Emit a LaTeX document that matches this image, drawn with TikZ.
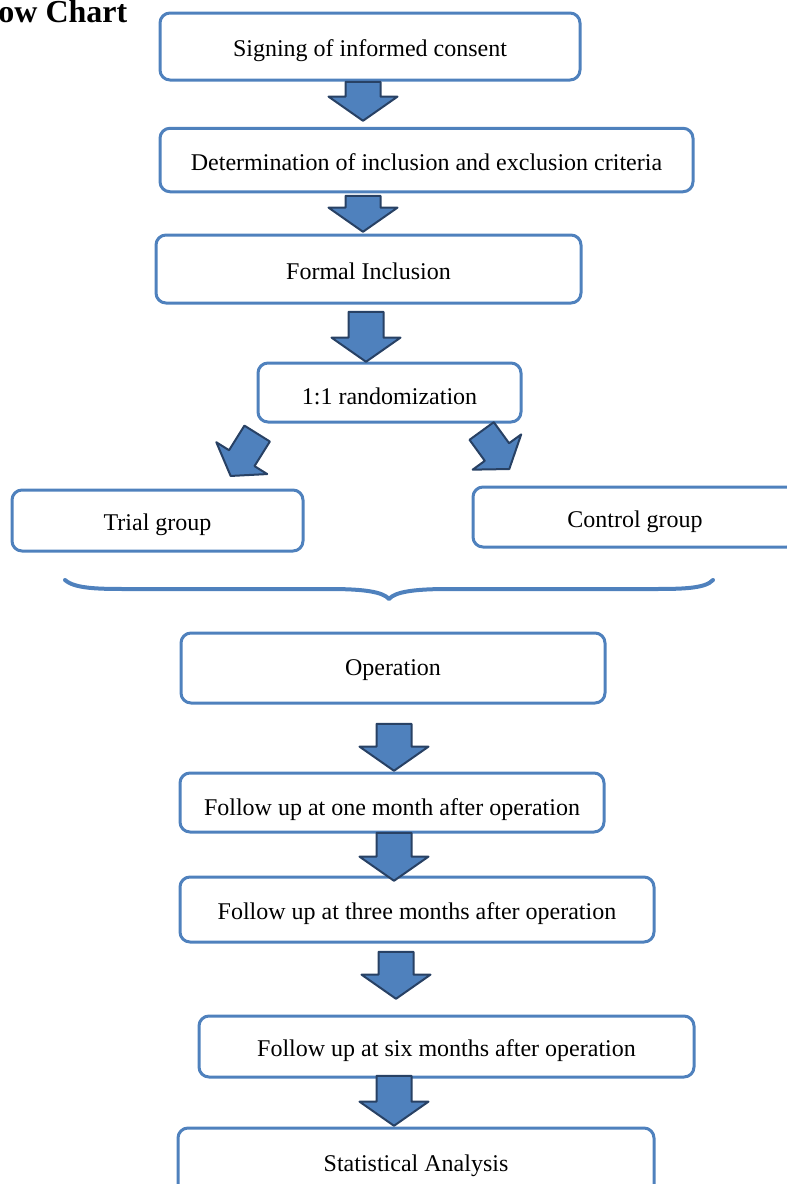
\documentclass[tikz,border=0pt]{standalone}
\usepackage{fontspec}
\setmainfont{Liberation Serif}
\usetikzlibrary{shapes.arrows}
\definecolor{boxblue}{RGB}{79,129,189}
\definecolor{arrowline}{RGB}{40,65,100}

\begin{document}
\begin{tikzpicture}[x=0.5pt,y=-0.5pt,line join=round]
\tikzstyle{box}=[draw=boxblue,line width=1.5pt,rounded corners=5pt,align=center,inner sep=0pt,text height=10pt,text depth=0pt,font=\fontsize{12}{14}\selectfont]
\tikzstyle{blockarrow}=[single arrow,draw=arrowline,fill=boxblue,line width=1pt,inner xsep=0pt,inner ysep=8.25pt,single arrow head extend=8.5pt,single arrow tip angle=110,anchor=tip]
\tikzstyle{slantarrow}=[blockarrow,inner ysep=7pt,single arrow head extend=7.5pt]
\useasboundingbox (0,0) rectangle (787,1184);
\node[font=\fontsize{16}{18}\selectfont\bfseries,anchor=base west,inner sep=0pt] (title) at (-2,22) {ow Chart};
% boxes
\node[box,minimum width=210pt,minimum height=33.5pt] (consent) at (370,46.5) {Signing of informed consent};
\node[box,minimum width=266.5pt,minimum height=31.75pt] (criteria) at (426.5,160) {Determination of inclusion and exclusion criteria};
\node[box,minimum width=212.5pt,minimum height=34pt] (inclusion) at (368.5,269) {Formal Inclusion};
\node[box,minimum width=131.5pt,minimum height=29.5pt,text height=12pt] (random) at (389.5,392.5) {1:1 randomization};
\node[box,minimum width=145.5pt,minimum height=30.5pt] (trial) at (157.5,520.5) {Trial group};
\node[box,minimum width=162pt,minimum height=30pt] (control) at (635,517) {Control group};
\node[box,minimum width=212pt,minimum height=35pt,text height=7pt] (operation) at (393,668) {Operation};
\node[box,minimum width=212pt,minimum height=29.5pt,text height=13pt] (month1) at (392,802.5) {Follow up at one month after operation};
\node[box,minimum width=237pt,minimum height=32.5pt] (month3) at (417,909.5) {Follow up at three months after operation};
\node[box,minimum width=247.5pt,minimum height=30.5pt] (month6) at (446.5,1046.5) {Follow up at six months after operation};
\node[box,minimum width=238pt,minimum height=36pt,text height=7pt] (stats) at (416,1164) {Statistical Analysis};
% block arrows
\node[blockarrow,rotate=-90,minimum height=19.5pt] (a1) at (363,122) {};
\node[blockarrow,rotate=-90,minimum height=18pt] (a2) at (363,233) {};
\node[blockarrow,rotate=-90,minimum height=25pt] (a3) at (366,363) {};
\node[slantarrow,rotate=238,minimum height=25pt] (a4) at (230,477) {};
\node[slantarrow,rotate=-54,minimum height=23.5pt] (a5) at (510,470) {};
\node[blockarrow,rotate=-90,minimum height=23.5pt] (a6) at (394,772) {};
\node[blockarrow,rotate=-90,minimum height=24pt] (a7) at (394,882) {};
\node[blockarrow,rotate=-90,minimum height=23.5pt] (a8) at (396,1000) {};
\node[blockarrow,rotate=-90,minimum height=25pt] (a9) at (394,1127) {};
% brace
\draw[boxblue,line width=2pt,line cap=round] (65,580) .. controls (75,589) and (100,589) .. (130,589) -- (330,589) .. controls (365,589) and (383,592) .. (389,599) .. controls (395,592) and (413,589) .. (448,589) -- (650,589) .. controls (680,589) and (705,589) .. (713,580);
\end{tikzpicture}
\end{document}
